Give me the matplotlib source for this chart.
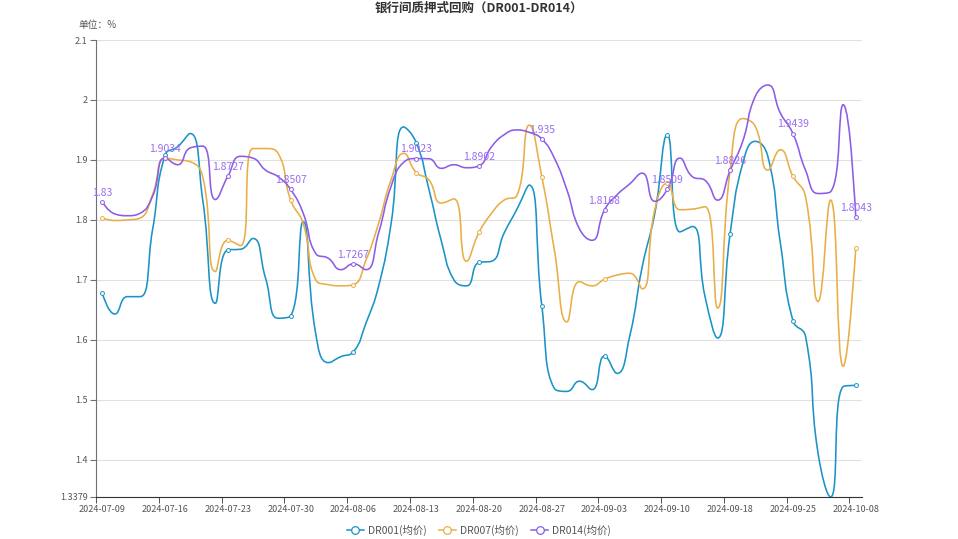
import numpy as np
import matplotlib
matplotlib.use('Agg')
import matplotlib.pyplot as plt
from matplotlib.path import Path
from matplotlib.patches import PathPatch
from matplotlib.lines import Line2D

plt.rcParams['font.family'] = ['Noto Sans CJK SC', 'DejaVu Sans']

dates = ['2024-07-09', '2024-07-10', '2024-07-11', '2024-07-12', '2024-07-15',
         '2024-07-16', '2024-07-17', '2024-07-18', '2024-07-19', '2024-07-22',
         '2024-07-23', '2024-07-24', '2024-07-25', '2024-07-26', '2024-07-29',
         '2024-07-30', '2024-07-31', '2024-08-01', '2024-08-02', '2024-08-05',
         '2024-08-06', '2024-08-07', '2024-08-08', '2024-08-09', '2024-08-12',
         '2024-08-13', '2024-08-14', '2024-08-15', '2024-08-16', '2024-08-19',
         '2024-08-20', '2024-08-21', '2024-08-22', '2024-08-23', '2024-08-26',
         '2024-08-27', '2024-08-28', '2024-08-29', '2024-08-30', '2024-09-02',
         '2024-09-03', '2024-09-04', '2024-09-05', '2024-09-06', '2024-09-09',
         '2024-09-10', '2024-09-11', '2024-09-12', '2024-09-13', '2024-09-14',
         '2024-09-18', '2024-09-19', '2024-09-20', '2024-09-23', '2024-09-24',
         '2024-09-25', '2024-09-26', '2024-09-27', '2024-09-29', '2024-09-30',
         '2024-10-08']

dr001 = [1.678, 1.643, 1.672, 1.672, 1.783, 1.908, 1.922, 1.944, 1.833, 1.661,
         1.750, 1.751, 1.769, 1.703, 1.636, 1.640, 1.797, 1.610, 1.562, 1.572,
         1.580, 1.628, 1.689, 1.794, 1.955, 1.929, 1.852, 1.765, 1.700, 1.690,
         1.729, 1.731, 1.778, 1.817, 1.858, 1.657, 1.519, 1.514, 1.531, 1.517,
         1.573, 1.544, 1.606, 1.722, 1.811, 1.942, 1.780, 1.789, 1.672, 1.603,
         1.777, 1.894, 1.931, 1.906, 1.761, 1.632, 1.606, 1.411, 1.3379, 1.522,
         1.524]

dr007 = [1.803, 1.799, 1.800, 1.803, 1.842, 1.903, 1.900, 1.897, 1.872, 1.714,
         1.766, 1.757, 1.919, 1.919, 1.911, 1.833, 1.794, 1.700, 1.692, 1.690,
         1.692, 1.733, 1.794, 1.867, 1.911, 1.879, 1.867, 1.828, 1.835, 1.731,
         1.779, 1.811, 1.833, 1.840, 1.958, 1.872, 1.750, 1.630, 1.697, 1.690,
         1.701, 1.708, 1.711, 1.685, 1.817, 1.861, 1.817, 1.818, 1.822, 1.653,
         1.883, 1.969, 1.956, 1.883, 1.917, 1.873, 1.839, 1.664, 1.833, 1.556,
         1.753]

dr014 = [1.83, 1.810, 1.807, 1.811, 1.839, 1.9034, 1.892, 1.920, 1.923, 1.834,
         1.8727, 1.906, 1.903, 1.883, 1.872, 1.8507, 1.811, 1.744, 1.736, 1.717,
         1.7267, 1.717, 1.778, 1.856, 1.896, 1.9023, 1.902, 1.886, 1.892, 1.887,
         1.8902, 1.922, 1.942, 1.950, 1.946, 1.935, 1.903, 1.850, 1.785, 1.766,
         1.8168, 1.842, 1.860, 1.878, 1.831, 1.8509, 1.903, 1.872, 1.866, 1.833,
         1.8826, 1.931, 2.006, 2.025, 1.978, 1.9439, 1.883, 1.844, 1.847, 1.992,
         1.8043]

series_names = ['DR001(均价)', 'DR007(均价)', 'DR014(均价)']
colors = ['#1a93c6', '#e9ae45', '#8c5ce8']
label_color = '#9a6cf0'

yticks = [1.3379, 1.4, 1.5, 1.6, 1.7, 1.8, 1.9, 2.0, 2.1]
ytick_labels = ['1.3379', '1.4', '1.5', '1.6', '1.7', '1.8', '1.9', '2', '2.1']


def smooth_path(xs, ys, sx, sy, smooth=0.5):
    # echarts style bezier smoothing, control points clamped to neighbours
    px = np.asarray(xs, float) * sx
    py = np.asarray(ys, float) * sy
    n = len(px)
    verts = [(px[0], py[0])]
    codes = [Path.MOVETO]
    cp0 = (px[0], py[0])
    for k in range(1, n):
        x, y = px[k], py[k]
        prx, pry = px[k - 1], py[k - 1]
        if k + 1 >= n:
            cp1 = (x, y)
            ncp = (x, y)
        else:
            nx, ny = px[k + 1], py[k + 1]
            vx, vy = nx - prx, ny - pry
            lp = max(np.hypot(x - prx, y - pry), 1e-9)
            ln = max(np.hypot(nx - x, ny - y), 1e-9)
            r = ln / (ln + lp)
            ncx = x + vx * smooth * r
            ncy = y + vy * smooth * r
            ncx = min(max(ncx, min(nx, x)), max(nx, x))
            ncy = min(max(ncy, min(ny, y)), max(ny, y))
            vx, vy = ncx - x, ncy - y
            c1x = x - vx * lp / ln
            c1y = y - vy * lp / ln
            c1x = min(max(c1x, min(prx, x)), max(prx, x))
            c1y = min(max(c1y, min(pry, y)), max(pry, y))
            vx, vy = x - c1x, y - c1y
            cp1 = (c1x, c1y)
            ncp = (x + vx * ln / lp, y + vy * ln / lp)
        verts += [cp0, cp1, (x, y)]
        codes += [Path.CURVE4] * 3
        cp0 = ncp
    verts = np.array(verts)
    verts[:, 0] /= sx
    verts[:, 1] /= sy
    return Path(verts, codes)


fig = plt.figure(figsize=(9.58, 5.39), dpi=100)
ax = fig.add_axes([96 / 958, 42 / 539, 766 / 958, 457 / 539])

idx = np.arange(len(dates))
for vals, c in zip([dr001, dr007, dr014], colors):
    path = smooth_path(idx, vals, 12.56, 600)
    ax.add_patch(PathPatch(path, fill=False, edgecolor=c, lw=1.15, zorder=3))
    ax.plot(idx[::5], np.array(vals)[::5], 'o', ms=2.8, mfc='white', mec=c,
            mew=0.7, zorder=4)

for i in idx[::5]:
    ax.annotate(f'{dr014[i]:g}', (i, dr014[i]), xytext=(0, 3),
                textcoords='offset points', ha='center', va='bottom',
                color=label_color, fontsize=7.5, zorder=5)

ax.set_xlim(-0.5, len(dates) - 0.5)
ax.set_ylim(1.3379, 2.1)

ax.set_yticks(yticks)
ax.set_yticklabels(ytick_labels)
ax.set_xticks(idx[::5])
ax.set_xticklabels([dates[i] for i in idx[::5]])
ax.set_xticks(np.arange(-0.5, len(dates) - 1, 5), minor=True)
ax.tick_params(axis='x', which='major', length=0, pad=6, labelsize=6.5,
               labelcolor='#555555')
ax.tick_params(axis='x', which='minor', length=4, color='#333333')
ax.tick_params(axis='y', length=4, color='#6e7079', pad=2, labelsize=6.5,
               labelcolor='#555555')

ax.grid(axis='y', color='#e0e0e0', lw=0.8, zorder=0)
for s in ['top', 'right']:
    ax.spines[s].set_visible(False)
ax.spines['left'].set_color('#6e7079')
ax.spines['bottom'].set_color('#333333')

fig.text(0.5, 1 - 8 / 539, '银行间质押式回购（DR001-DR014）', ha='center',
         va='center', fontsize=9, fontweight='bold', color='#333333')
fig.text(78 / 958, 1 - 25 / 539, '单位：%', ha='left', va='center',
         fontsize=7, color='#555555')

handles = [Line2D([0], [0], color=c, lw=1.1, marker='o', ms=5.5, mfc='white',
                  mec=c, mew=0.9) for c in colors]
fig.legend(handles, series_names, loc='center', ncol=3, frameon=False,
           bbox_to_anchor=(0.5, 1 - 530 / 539), fontsize=7.5, handlelength=1.6,
           handletextpad=0.4, columnspacing=1.2, labelcolor='#555555')

plt.savefig('out.png', dpi=100)
